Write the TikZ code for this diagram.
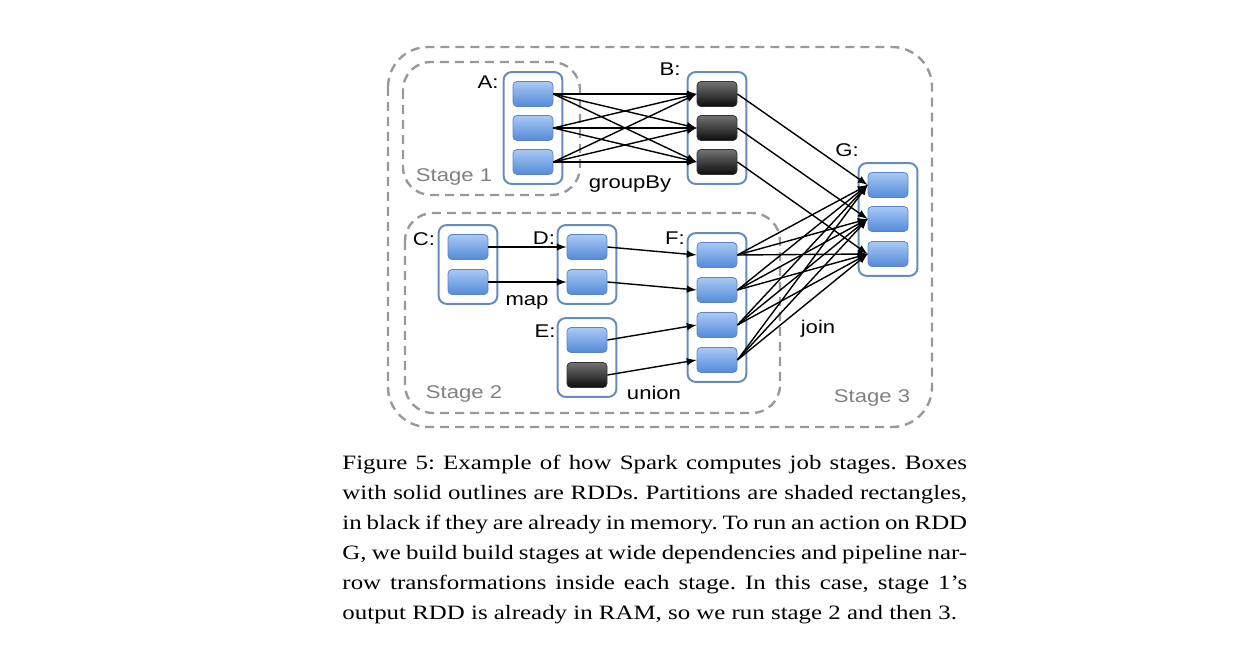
\documentclass[tikz,border=0pt]{standalone}
\usepackage{fontspec}
\setmainfont{Liberation Serif}
\newfontfamily\helv{Liberation Sans}
\usetikzlibrary{arrows,fit}
\definecolor{RddClr}{rgb}{0.40,0.55,0.74}
\definecolor{PartTop}{rgb}{0.66,0.79,0.96}
\definecolor{PartBot}{rgb}{0.33,0.54,0.85}
\definecolor{PartEdge}{rgb}{0.36,0.52,0.78}
\definecolor{StageClr}{rgb}{0.6,0.6,0.6}
\definecolor{StageTxt}{rgb}{0.5,0.5,0.5}
\frenchspacing

\begin{document}
\begin{tikzpicture}[x=0.5pt,y=-0.5pt,
  part/.style={rectangle,rounded corners=2pt,minimum width=20pt,minimum height=12.5pt,inner sep=0pt,draw=PartEdge,line width=0.4pt,top color=PartTop,bottom color=PartBot},
  mem/.style={part,draw=black!80,top color=black!55,bottom color=black!95},
  rdd/.style={draw=RddClr,line width=1pt,rounded corners=4pt,inner xsep=4.5pt,inner ysep=4.5pt},
  stage/.style={draw=StageClr,line width=1.2pt,dash pattern=on 4.5pt off 3pt,rounded corners=#1},
  stage/.default=12pt,
  lbl/.style={font=\helv\fontsize{9.2}{11}\selectfont,xscale=1.2,transform shape,inner sep=0pt},
  stg/.style={lbl,text=StageTxt},
  dep/.style={draw=black,line width=0.7pt,-latex}]
\useasboundingbox (0,0) rectangle (1258,646);

\draw[stage=20pt] (388,47) rectangle (932,427);
\draw[stage=14pt] (403,62) rectangle (580,195);
\draw[stage=14pt] (405,213) rectangle (780,413);

\node[part] (a1) at (533,94) {};
\node[part] (a2) at (533,128) {};
\node[part] (a3) at (533,162) {};
\node[mem] (b1) at (717,94) {};
\node[mem] (b2) at (717,128) {};
\node[mem] (b3) at (717,162) {};
\node[part] (c1) at (468,247) {};
\node[part] (c2) at (468,282) {};
\node[part] (d1) at (587,247) {};
\node[part] (d2) at (587,282) {};
\node[part] (e1) at (587,340) {};
\node[mem] (e2) at (587,375) {};
\node[part] (f1) at (717,255) {};
\node[part] (f2) at (717,290) {};
\node[part] (f3) at (717,325) {};
\node[part] (f4) at (717,360) {};
\node[part] (g1) at (888,185) {};
\node[part] (g2) at (888,219) {};
\node[part] (g3) at (888,254) {};

\node[rdd,fit=(a1)(a3)] (A) {};
\node[rdd,fit=(b1)(b3)] (B) {};
\node[rdd,fit=(c1)(c2)] (C) {};
\node[rdd,fit=(d1)(d2)] (D) {};
\node[rdd,fit=(e1)(e2)] (E) {};
\node[rdd,fit=(f1)(f4)] (F) {};
\node[rdd,fit=(g1)(g3)] (G) {};

\path (a1.east) edge[dep] (b1.west) edge[dep] (b2.west) edge[dep] (b3.west);
\path (a2.east) edge[dep] (b1.west) edge[dep] (b2.west) edge[dep] (b3.west);
\path (a3.east) edge[dep] (b1.west) edge[dep] (b2.west) edge[dep] (b3.west);
\path (b1.east) edge[dep] (g1.west) (b2.east) edge[dep] (g2.west) (b3.east) edge[dep] (g3.west);
\path (c1.east) edge[dep] (d1.west) (c2.east) edge[dep] (d2.west);
\path (d1.east) edge[dep] (f1.west) (d2.east) edge[dep] (f2.west);
\path (e1.east) edge[dep] (f3.west) (e2.east) edge[dep] (f4.west);
\path (f1.east) edge[dep] (g1.west) edge[dep] (g2.west) edge[dep] (g3.west);
\path (f2.east) edge[dep] (g1.west) edge[dep] (g2.west) edge[dep] (g3.west);
\path (f3.east) edge[dep] (g1.west) edge[dep] (g2.west) edge[dep] (g3.west);
\path (f4.east) edge[dep] (g1.west) edge[dep] (g2.west) edge[dep] (g3.west);

\node[lbl] (la) at (488,82) {A:};
\node[lbl] (lb) at (670,69) {B:};
\node[lbl] (lc) at (424,239) {C:};
\node[lbl] (ld) at (544,238) {D:};
\node[lbl] (le) at (545,331) {E:};
\node[lbl] (lf) at (675,238) {F:};
\node[lbl] (lg) at (847,150) {G:};
\node[lbl] (gby) at (630,184) {groupBy};
\node[lbl] (mp) at (527,302) {map};
\node[lbl] (un) at (654,393) {union};
\node[lbl] (jn) at (818,329) {join};
\node[stg] (s1) at (454,177) {Stage 1};
\node[stg] (s2) at (464,394) {Stage 2};
\node[stg] (s3) at (872,398) {Stage 3};

\node[anchor=base west,inner sep=0pt,text width=256pt,align=justify,xscale=1.22,transform shape,font=\fontsize{10.2}{15}\selectfont] (cap) at (342,469)
{\parfillskip=0pt Figure 5: Example of how Spark computes job stages. Boxes\linebreak
with solid outlines are RDDs. Partitions are shaded rectangles,\linebreak
in black if they are already in memory. To run an action on RDD\linebreak
G, we build build stages at wide dependencies and pipeline nar-\linebreak
row transformations inside each stage. In this case, stage 1’s\linebreak
output RDD is already in RAM, so we run stage 2 and then 3.};
\end{tikzpicture}
\end{document}
